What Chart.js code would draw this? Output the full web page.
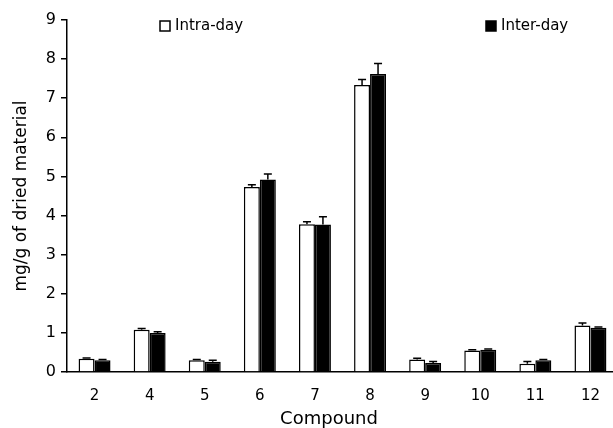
<!DOCTYPE html>
<html>
<head>
<meta charset="utf-8">
<script src="https://cdn.jsdelivr.net/npm/chart.js@4"></script>
<style>
  html, body { margin: 0; padding: 0; background: #fff; overflow: hidden; }
  #wrap { width: 618px; height: 428px; }
</style>
</head>
<body>
<div id="wrap"><canvas id="myChart"></canvas></div>
<script>
const compounds = ["2", "4", "5", "6", "7", "8", "9", "10", "11", "12"]
const intraDay = [0.34, 1.08, 0.30, 4.73, 3.78, 7.34, 0.32, 0.55, 0.21, 1.19]
const interDay = [0.30, 1.00, 0.26, 4.92, 3.77, 7.62, 0.23, 0.57, 0.30, 1.13]
const intraErr = [0.02, 0.03, 0.02, 0.06, 0.06, 0.14, 0.03, 0.02, 0.06, 0.06]
const interErr = [0.02, 0.03, 0.04, 0.14, 0.20, 0.27, 0.04, 0.02, 0.02, 0.02]
const xTitle = "Compound"

const FONT = "'DejaVu Sans', sans-serif"

// upper error bars, drawn from each bar's top through the y scale
const errorBars = {
  id: "errorBars",
  afterDatasetsDraw(chart) {
    const ctx = chart.ctx
    const y = chart.scales.y
    chart.data.datasets.forEach((ds, i) => {
      const meta = chart.getDatasetMeta(i)
      meta.data.forEach((bar, j) => {
        const top = y.getPixelForValue(ds.data[j] + ds.errors[j])
        ctx.save()
        ctx.strokeStyle = "#000"
        ctx.lineWidth = 1.5
        ctx.beginPath()
        ctx.moveTo(bar.x, bar.y)
        ctx.lineTo(bar.x, top)
        ctx.moveTo(bar.x - 4, top)
        ctx.lineTo(bar.x + 4, top)
        ctx.stroke()
        ctx.restore()
      })
    })
  }
}

// legend items sit far apart in the original, so draw them by hand
// the x title is also a bit left of the plot centre there
const extras = {
  id: "extras",
  afterDraw(chart) {
    const ctx = chart.ctx
    const spots = [160, 486]
    chart.data.datasets.forEach((ds, i) => {
      const x = spots[i]
      ctx.save()
      ctx.fillStyle = ds.backgroundColor
      ctx.fillRect(x, 21, 10, 10)
      ctx.strokeStyle = "#000"
      ctx.lineWidth = 1.5
      ctx.strokeRect(x, 21, 10, 10)
      ctx.fillStyle = "#000"
      ctx.font = "15px " + FONT
      ctx.textBaseline = "middle"
      ctx.fillText(ds.label, x + 15, 26.5)
      ctx.restore()
    })

    ctx.save()
    ctx.fillStyle = "#000"
    ctx.font = "18px " + FONT
    ctx.textAlign = "center"
    ctx.textBaseline = "middle"
    ctx.fillText(xTitle, 329, 419)
    ctx.restore()
  }
}

new Chart(document.getElementById("myChart"), {
  type: "bar",
  data: {
    labels: compounds,
    datasets: [
      {
        label: "Intra-day",
        data: intraDay,
        errors: intraErr,
        backgroundColor: "#ffffff",
        borderColor: "#000000",
        borderWidth: 1.5
      },
      {
        label: "Inter-day",
        data: interDay,
        errors: interErr,
        backgroundColor: "#000000",
        borderColor: "#000000",
        borderWidth: 1.5
      }
    ]
  },
  options: {
    responsive: true,
    maintainAspectRatio: false,
    animation: false,
    datasets: { bar: { categoryPercentage: 0.58, barPercentage: 1 } },
    layout: { padding: { top: 20, right: 0, bottom: 0, left: 0 } },
    plugins: {
      legend: { display: false },
      tooltip: { enabled: false }
    },
    scales: {
      x: {
        grid: { display: false, drawTicks: false },
        border: { display: true, color: "#000", width: 1.5 },
        ticks: { color: "#000", font: { family: FONT, size: 15 }, padding: 15, maxRotation: 0 },
        afterFit(scale) { scale.height = 56 }
      },
      y: {
        min: 0,
        max: 9,
        grid: { drawOnChartArea: false, tickLength: 6, color: "#000", lineWidth: 1.5 },
        border: { display: true, color: "#000", width: 1.5 },
        ticks: { stepSize: 1, color: "#000", font: { family: FONT, size: 16 }, padding: 5 },
        title: {
          display: true,
          text: "mg/g of dried material",
          color: "#000",
          font: { family: FONT, size: 17 },
          padding: { top: 11, bottom: 0 }
        },
        afterFit(scale) { scale.width = 67 }
      }
    }
  },
  plugins: [errorBars, extras]
})
</script>
</body>
</html>
